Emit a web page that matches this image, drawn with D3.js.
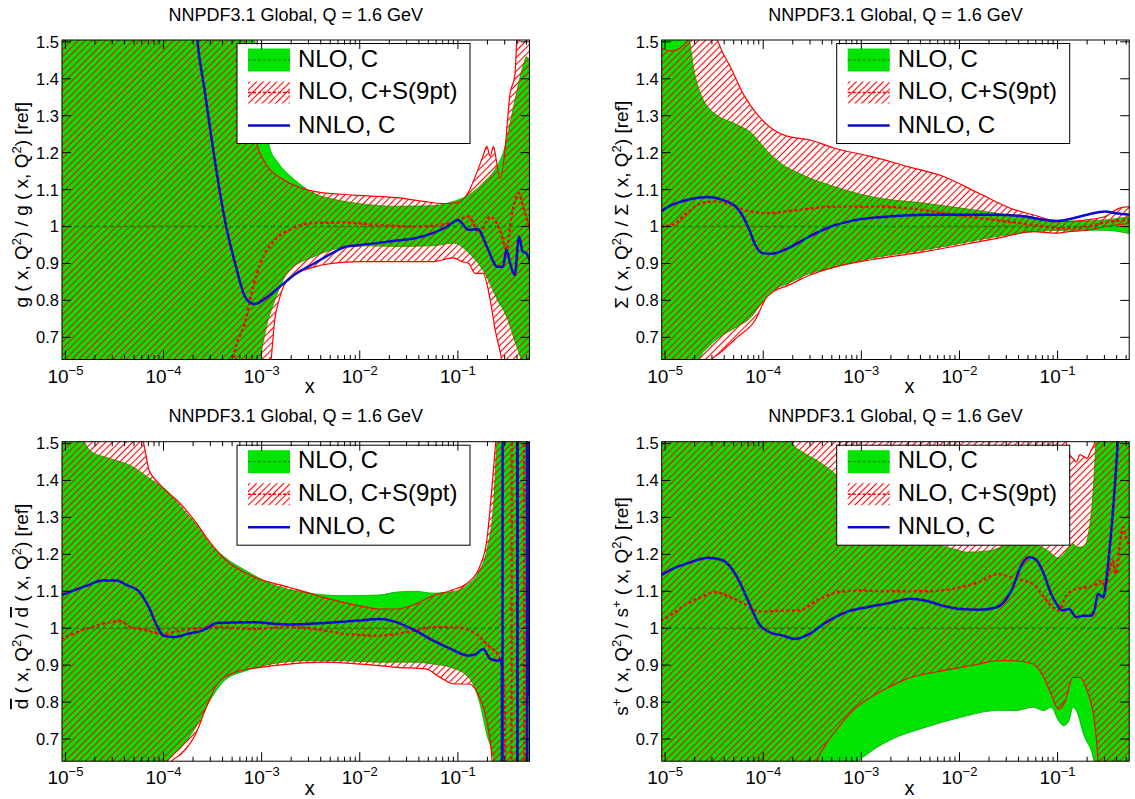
<!DOCTYPE html>
<html><head><meta charset="utf-8">
<script src="https://cdn.jsdelivr.net/npm/d3@7"></script>
<style>
body{margin:0;background:#fff}
svg{display:block}
text{font-family:"Liberation Sans",Arial,Helvetica,sans-serif;fill:#000}
</style>
</head><body><script>
// ---------------- data ----------------
const titleText = "NNPDF3.1 Global, Q = 1.6 GeV";
const legendLabels = ["NLO, C", "NLO, C+S(9pt)", "NNLO, C"];
const xMajorTicks = [1e-5, 1e-4, 1e-3, 1e-2, 1e-1];
const xMajorExp = ["\u22125", "\u22124", "\u22123", "\u22122", "\u22121"];
const yTicks = [0.7, 0.8, 0.9, 1.0, 1.1, 1.2, 1.3, 1.4, 1.5];
const yTickLabels = ["0.7", "0.8", "0.9", "1", "1.1", "1.2", "1.3", "1.4", "1.5"];
const refLine = [[9e-6, 1], [0.6, 1]];

// gluon
const glGreenUp = [[9e-6,1.6],[7.5e-4,1.6],[9e-4,1.45],[1.05e-3,1.3],[1.2e-3,1.217],[1.48e-3,1.172],[1.9e-3,1.14],[2.45e-3,1.115],[3.4e-3,1.09],[5.2e-3,1.075],[1.0e-2,1.062],[2.4e-2,1.055],[5.5e-2,1.056],[8.5e-2,1.066],[0.13,1.086],[0.18,1.118],[0.25,1.163],[0.29,1.2],[0.37,1.325],[0.46,1.434],[0.5,1.46],[0.55,1.43]];
const glGreenLo = [[9e-6,0.5],[8.5e-4,0.5],[9.7e-4,0.64],[1.1e-3,0.72],[1.36e-3,0.8],[1.9e-3,0.88],[3.4e-3,0.918],[5.2e-3,0.937],[1.0e-2,0.948],[2.4e-2,0.946],[5.6e-2,0.948],[9e-2,0.955],[0.13,0.928],[0.197,0.864],[0.254,0.80],[0.31,0.76],[0.38,0.69],[0.44,0.64],[0.55,0.5]];
const glRedUp = [[9e-6,1.7],[6e-4,1.6],[7.6e-4,1.35],[8.5e-4,1.25],[1.1e-3,1.17],[1.6e-3,1.13],[2.5e-3,1.105],[3.4e-3,1.095],[6e-3,1.088],[1.2e-2,1.083],[2.4e-2,1.078],[4.5e-2,1.068],[7e-2,1.062],[0.1,1.065],[0.129,1.095],[0.16,1.154],[0.18,1.19],[0.197,1.217],[0.214,1.19],[0.23,1.217],[0.25,1.17],[0.27,1.13],[0.3,1.2],[0.34,1.36],[0.38,1.407],[0.41,1.55],[0.55,1.6]];
const glRedLo = [[9e-6,0.5],[1.0e-3,0.5],[1.25e-3,0.64],[1.36e-3,0.747],[1.5e-3,0.8],[1.9e-3,0.86],[3.4e-3,0.89],[5.2e-3,0.9],[1.0e-2,0.905],[2.4e-2,0.905],[5.6e-2,0.905],[9e-2,0.915],[0.11,0.905],[0.129,0.9],[0.15,0.873],[0.18,0.873],[0.214,0.80],[0.24,0.72],[0.27,0.66],[0.3,0.6],[0.55,0.5]];
const glRedMid = [[5.0e-4,0.6],[5.14e-4,0.64],[6.9e-4,0.747],[8.18e-4,0.837],[9.7e-4,0.9],[1.36e-3,0.964],[1.9e-3,0.99],[3.16e-3,1.009],[6.75e-3,1.011],[1.57e-2,1.004],[3.65e-2,1.0],[8.5e-2,1.009],[0.129,1.027],[0.166,0.982],[0.214,1.027],[0.276,0.982],[0.313,0.937],[0.356,1.036],[0.42,1.09],[0.466,1.05],[0.55,0.99]];
const glBlue = [[2.1e-4,1.58],[2.21e-4,1.507],[2.62e-4,1.37],[3.24e-4,1.2],[4.35e-4,1.0],[5.37e-4,0.9],[6.9e-4,0.806],[8.5e-4,0.79],[1.15e-3,0.81],[1.61e-3,0.842],[2.25e-3,0.873],[3.43e-3,0.9],[5.24e-3,0.928],[7.34e-3,0.946],[1.03e-2,0.95],[2.39e-2,0.962],[3.65e-2,0.968],[5.56e-2,0.982],[7.8e-2,1.0],[0.1,1.018],[0.129,0.991],[0.16,0.993],[0.197,0.946],[0.254,0.891],[0.288,0.891],[0.313,0.937],[0.341,0.9],[0.38,0.869],[0.42,0.973],[0.458,0.932],[0.498,0.928],[0.55,0.9]];

// singlet
const sigGreenUp = [[9e-6,1.6],[1.6e-5,1.6],[1.75e-5,1.52],[1.95e-5,1.43],[2.3e-5,1.36],[2.8e-5,1.32],[3.3e-5,1.303],[5.4e-5,1.276],[7.6e-5,1.253],[1.07e-4,1.208],[1.5e-4,1.172],[2.5e-4,1.14],[5.35e-4,1.108],[1.25e-3,1.081],[4.44e-3,1.063],[1.04e-2,1.05],[2.41e-2,1.036],[5.62e-2,1.02],[0.131,1.014],[0.305,1.018],[0.55,1.027]];
const sigGreenLo = [[9e-6,0.5],[2.0e-5,0.55],[2.23e-5,0.64],[2.76e-5,0.674],[3.56e-5,0.70],[5.43e-5,0.729],[7.6e-5,0.756],[9.04e-5,0.783],[1.07e-4,0.81],[1.27e-4,0.828],[1.78e-4,0.846],[2.96e-4,0.873],[5.35e-4,0.89],[1.25e-3,0.914],[4.44e-3,0.937],[1.04e-2,0.955],[2.41e-2,0.973],[5.62e-2,0.986],[0.131,0.99],[0.305,0.99],[0.55,0.98]];
const sigRedUp = [[9e-6,1.484],[1.19e-5,1.475],[1.53e-5,1.49],[1.73e-5,1.505],[2.33e-5,1.52],[3.27e-5,1.51],[3.87e-5,1.47],[4.59e-5,1.434],[6.44e-5,1.353],[9.04e-5,1.298],[1.27e-4,1.262],[1.78e-4,1.244],[2.96e-4,1.235],[5.35e-4,1.212],[1.25e-3,1.19],[2.9e-3,1.163],[6.78e-3,1.136],[1.58e-2,1.09],[3.68e-2,1.045],[5.62e-2,1.032],[8.59e-2,1.018],[0.131,1.014],[0.2,1.018],[0.305,1.027],[0.428,1.05],[0.55,1.054]];
const sigRedLo = [[9e-6,0.5],[2.7e-5,0.58],[3.0e-5,0.64],[3.56e-5,0.656],[5.43e-5,0.70],[8.3e-5,0.747],[1.07e-4,0.806],[1.27e-4,0.824],[1.78e-4,0.84],[2.96e-4,0.868],[5.35e-4,0.89],[1.25e-3,0.91],[4.44e-3,0.932],[1.04e-2,0.95],[2.41e-2,0.968],[5.62e-2,0.986],[9.35e-2,0.982],[0.131,0.986],[0.2,0.99],[0.305,1.0],[0.55,1.009]];
const sigRedMid = [[9e-6,1.0],[1.19e-5,1.005],[1.66e-5,1.036],[2.33e-5,1.063],[3.27e-5,1.068],[4.59e-5,1.059],[6.44e-5,1.045],[1.07e-4,1.036],[2.29e-4,1.045],[5.35e-4,1.054],[1.25e-3,1.054],[2.9e-3,1.05],[6.78e-3,1.036],[1.58e-2,1.023],[3.68e-2,1.011],[6.67e-2,1.002],[0.111,0.995],[0.2,1.0],[0.305,1.011],[0.55,1.018]];
const sigBlue = [[9e-6,1.041],[1.19e-5,1.059],[1.66e-5,1.072],[2.76e-5,1.08],[3.87e-5,1.072],[5.43e-5,1.05],[7.0e-5,1.0],[8.3e-5,0.95],[9.84e-5,0.928],[1.22e-4,0.926],[1.78e-4,0.941],[2.96e-4,0.973],[4.91e-4,1.0],[8.16e-4,1.016],[1.9e-3,1.027],[4.44e-3,1.032],[1.04e-2,1.032],[2.41e-2,1.032],[4.74e-2,1.027],[6.67e-2,1.02],[9.35e-2,1.015],[0.131,1.02],[0.2,1.032],[0.305,1.041],[0.394,1.036],[0.55,1.032]];

// dbar
const dbGreenUp = [[9e-6,1.56],[1.5e-5,1.51],[1.8e-5,1.48],[2.8e-5,1.46],[4.65e-5,1.44],[7.7e-5,1.40],[1.08e-4,1.373],[1.51e-4,1.328],[2.12e-4,1.283],[2.97e-4,1.229],[4.17e-4,1.193],[6.92e-4,1.156],[1.25e-3,1.12],[2.9e-3,1.096],[4.42e-3,1.09],[6.75e-3,1.088],[1.57e-2,1.09],[2.39e-2,1.098],[3.65e-2,1.1],[5.56e-2,1.095],[8.47e-2,1.098],[0.129,1.12],[0.166,1.156],[0.197,1.211],[0.233,1.346],[0.254,1.52],[0.55,1.6]];
const dbGreenLo = [[9e-6,0.5],[1.0e-4,0.56],[1.08e-4,0.636],[1.51e-4,0.677],[2.12e-4,0.731],[2.97e-4,0.804],[4.17e-4,0.858],[6.92e-4,0.885],[1.25e-3,0.903],[2.9e-3,0.912],[6.75e-3,0.912],[1.57e-2,0.908],[3.65e-2,0.908],[5.56e-2,0.903],[8.47e-2,0.894],[0.129,0.867],[0.166,0.80],[0.197,0.713],[0.233,0.636],[0.25,0.5],[0.55,0.4]];
const dbRedUp = [[9e-6,1.6],[1.76e-5,1.53],[5.98e-5,1.52],[6.5e-5,1.48],[7.08e-5,1.43],[9.12e-5,1.39],[1.51e-4,1.335],[2.12e-4,1.288],[2.97e-4,1.233],[4.17e-4,1.188],[8.18e-4,1.14],[1.9e-3,1.111],[2.9e-3,1.097],[4.42e-3,1.082],[6.75e-3,1.07],[1.03e-2,1.06],[1.57e-2,1.052],[2.39e-2,1.052],[3.65e-2,1.065],[5.56e-2,1.088],[8.47e-2,1.102],[0.129,1.125],[0.166,1.165],[0.197,1.238],[0.224,1.39],[0.243,1.505],[0.26,1.6],[0.55,1.6]];
const dbRedLo = [[9e-6,0.5],[1.12e-4,0.56],[1.17e-4,0.636],[1.51e-4,0.659],[2.12e-4,0.713],[2.73e-4,0.786],[3.52e-4,0.849],[5.37e-4,0.881],[9.68e-4,0.894],[1.9e-3,0.903],[4.42e-3,0.908],[1.03e-2,0.903],[2.39e-2,0.894],[4.7e-2,0.89],[6.58e-2,0.867],[9.22e-2,0.849],[0.129,0.849],[0.166,0.813],[0.197,0.75],[0.224,0.636],[0.24,0.5],[0.55,0.4]];
const dbRedMid = [[9e-6,0.971],[1.2e-5,0.985],[1.84e-5,1.003],[2.8e-5,1.016],[3.6e-5,1.019],[4.65e-5,1.003],[6.5e-5,0.995],[9.93e-5,0.985],[1.51e-4,0.994],[3.52e-4,1.003],[8.18e-4,0.998],[1.9e-3,1.003],[4.42e-3,0.994],[6.75e-3,0.985],[1.57e-2,0.98],[2.39e-2,0.985],[3.65e-2,0.994],[5.56e-2,1.003],[9.22e-2,1.003],[0.153,0.985],[0.181,0.967],[0.214,0.948],[0.254,0.93],[0.288,0.894]];
const dbRedMidTail = [[0.288,0.894],[0.3,0.8],[0.31,0.3],[0.35,0.3],[0.356,1.8],[0.47,1.8],[0.477,0.3],[0.6,0.3]];
const dbBlue = [[9e-6,1.089],[1.2e-5,1.102],[1.69e-5,1.116],[2.37e-5,1.129],[3.31e-5,1.129],[4.27e-5,1.116],[5.5e-5,1.102],[7.08e-5,1.057],[8.38e-5,1.012],[9.93e-5,0.98],[1.28e-4,0.976],[1.79e-4,0.985],[2.51e-4,0.994],[3.52e-4,1.014],[8.18e-4,1.016],[1.9e-3,1.01],[4.42e-3,1.014],[1.03e-2,1.021],[1.57e-2,1.025],[2.39e-2,1.016],[3.65e-2,0.994],[5.56e-2,0.967],[8.47e-2,0.944],[0.129,0.926],[0.153,0.93],[0.181,0.944],[0.214,0.917],[0.254,0.912]];
const dbBlueTail = [[0.254,0.912],[0.275,0.915],[0.281,0.9],[0.283,0.3],[0.2845,0.3],[0.286,1.8],[0.402,1.8],[0.404,0.3],[0.406,0.3],[0.408,1.8],[0.505,1.8],[0.507,0.3],[0.509,0.3],[0.511,1.8],[0.528,1.8],[0.53,0.82],[0.533,1.06],[0.536,0.82],[0.55,0.82]];

// s+
const spGreenUp = [[9e-6,1.6],[1.0e-4,1.6],[1.5e-4,1.58],[1.94e-4,1.505],[2.6e-4,1.475],[3.5e-4,1.455],[5.82e-4,1.41],[1.0e-3,1.33],[3e-3,1.25],[8.7e-3,1.215],[1.2e-2,1.206],[2.04e-2,1.21],[3.1e-2,1.226],[5e-2,1.23],[8e-2,1.21],[0.102,1.19],[0.115,1.2],[0.131,1.22],[0.143,1.23],[0.155,1.22],[0.184,1.22],[0.218,1.30],[0.24,1.45],[0.25,1.55],[0.55,1.6]];
const spGreenLo = [[9e-6,0.4],[8.5e-4,0.55],[9.27e-4,0.636],[1.15e-3,0.659],[1.9e-3,0.695],[4.44e-3,0.731],[1.04e-2,0.759],[2.41e-2,0.777],[3.68e-2,0.777],[5.62e-2,0.786],[7.24e-2,0.777],[8.59e-2,0.786],[0.102,0.75],[0.115,0.736],[0.131,0.75],[0.143,0.786],[0.155,0.777],[0.184,0.713],[0.237,0.636],[0.26,0.5],[0.55,0.4]];
const spRedUp = [[9e-6,1.7],[0.09,1.6],[0.115,1.55],[0.125,1.49],[0.131,1.473],[0.143,1.46],[0.155,1.45],[0.169,1.47],[0.184,1.465],[0.2,1.46],[0.218,1.48],[0.24,1.505],[0.26,1.6],[0.55,1.7]];
const spRedLo = [[9e-6,0.4],[3.3e-4,0.58],[3.5e-4,0.636],[4.15e-4,0.677],[5.82e-4,0.731],[8.16e-4,0.777],[1.25e-3,0.813],[1.9e-3,0.84],[2.9e-3,0.863],[4.44e-3,0.876],[6.78e-3,0.885],[1.04e-2,0.894],[1.58e-2,0.903],[2.41e-2,0.912],[3.68e-2,0.912],[5.62e-2,0.903],[7.24e-2,0.867],[8.59e-2,0.822],[0.102,0.781],[0.12,0.804],[0.143,0.867],[0.169,0.867],[0.2,0.831],[0.237,0.75],[0.258,0.636],[0.27,0.5],[0.55,0.4]];
const spRedMid = [[9e-6,1.021],[1.19e-5,1.039],[1.66e-5,1.066],[2.33e-5,1.084],[3.27e-5,1.098],[4.59e-5,1.084],[6.44e-5,1.066],[8.3e-5,1.048],[1.07e-4,1.045],[1.5e-4,1.048],[2.29e-4,1.048],[3.5e-4,1.075],[5.82e-4,1.098],[9.66e-4,1.102],[1.9e-3,1.1],[4.44e-3,1.1],[1.04e-2,1.111],[1.58e-2,1.125],[2.41e-2,1.147],[3.68e-2,1.134],[5.62e-2,1.12],[7.24e-2,1.084],[8.59e-2,1.061],[0.102,1.048],[0.12,1.084],[0.155,1.107],[0.2,1.111],[0.237,1.116],[0.281,1.129],[0.305,1.111],[0.333,1.147],[0.362,1.184],[0.394,1.147],[0.428,1.22],[0.467,1.274],[0.508,1.238],[0.55,1.22]];
const spBlue = [[9e-6,1.143],[1.19e-5,1.161],[1.66e-5,1.175],[2.76e-5,1.191],[3.87e-5,1.184],[5.43e-5,1.138],[7.0e-5,1.075],[9.04e-5,1.012],[1.27e-4,0.985],[1.5e-4,0.982],[2.11e-4,0.971],[2.96e-4,0.985],[4.15e-4,1.012],[6.88e-4,1.043],[1.15e-3,1.057],[1.9e-3,1.068],[3.16e-3,1.08],[4.44e-3,1.075],[6.78e-3,1.061],[1.04e-2,1.052],[1.58e-2,1.05],[2.41e-2,1.057],[3.38e-2,1.102],[4.37e-2,1.175],[5.17e-2,1.193],[6.11e-2,1.184],[7.24e-2,1.147],[8.59e-2,1.093],[9.75e-2,1.066],[0.111,1.048],[0.131,1.052],[0.155,1.03],[0.184,1.034],[0.218,1.034],[0.237,1.048],[0.258,1.093],[0.293,1.084],[0.319,1.147],[0.362,1.301],[0.411,1.505],[0.43,1.6]];

// y-axis labels: [text, kind] kind: n normal, s superscript, b overline
const glYLabel = [["g ( x, Q","n"],["2","s"],[") / g ( x, Q","n"],["2","s"],[") [ref]","n"]];
const sigYLabel = [["\u03A3 ( x, Q","n"],["2","s"],[") / \u03A3 ( x, Q","n"],["2","s"],[") [ref]","n"]];
const dbYLabel = [["d","b"],[" ( x, Q","n"],["2","s"],[") / ","n"],["d","b"],[" ( x, Q","n"],["2","s"],[") [ref]","n"]];
const spYLabel = [["s","n"],["+","s"],[" ( x, Q","n"],["2","s"],[") / s","n"],["+","s"],[" ( x, Q","n"],["2","s"],[") [ref]","n"]];

// ---------------- layout / style ----------------
const W = 1135, H = 799;
const PW = 467.5, PH = 319.5;
const xDomain = [9.23e-6, 0.537];
const yDomain = [0.64, 1.505];
const GREEN = "#00e400", RED = "#ff0000", BLUE = "#0b0bd0", DGREEN = "#1d7a1d";

const panels = [
  {key:"gl", left:62, top:40, gU:glGreenUp, gL:glGreenLo, rU:glRedUp, rL:glRedLo, rM:glRedMid, b:glBlue, ylab:glYLabel},
  {key:"sig", left:661.7, top:40, gU:sigGreenUp, gL:sigGreenLo, rU:sigRedUp, rL:sigRedLo, rM:sigRedMid, b:sigBlue, ylab:sigYLabel},
  {key:"db", left:62, top:441.7, gU:dbGreenUp, gL:dbGreenLo, rU:dbRedUp, rL:dbRedLo, rM:dbRedMid, rMT:dbRedMidTail, b:dbBlue, bT:dbBlueTail, ylab:dbYLabel},
  {key:"sp", left:661.7, top:441.7, gU:spGreenUp, gL:spGreenLo, rU:spRedUp, rL:spRedLo, rM:spRedMid, b:spBlue, ylab:spYLabel}
];

const svg = d3.select("body").append("svg").attr("width", W).attr("height", H);
svg.append("rect").attr("width", W).attr("height", H).attr("fill", "#fff");
const defs = svg.append("defs");
const pat = defs.append("pattern").attr("id", "hatch").attr("patternUnits", "userSpaceOnUse")
  .attr("width", 4.8).attr("height", 4.8).attr("patternTransform", "rotate(45)");
pat.append("line").attr("x1", 2.4).attr("y1", -1).attr("x2", 2.4).attr("y2", 6)
  .attr("stroke", RED).attr("stroke-width", 1.1);

function richText(sel, segs, base, sup, shift) {
  let raised = false;
  segs.forEach(([t, k]) => {
    const ts = sel.append("tspan").text(t);
    if (k === "s") {
      ts.attr("font-size", sup);
      if (!raised) { ts.attr("dy", -shift); raised = true; }
    } else {
      ts.attr("font-size", base);
      if (raised) { ts.attr("dy", shift); raised = false; }
      if (k === "b") ts.style("text-decoration", "overline");
    }
  });
}

panels.forEach(p => {
  const g = svg.append("g").attr("transform", `translate(${p.left},${p.top})`);
  const x = d3.scaleLog().domain(xDomain).range([0, PW]);
  const y = d3.scaleLinear().domain(yDomain).range([PH, 0]);
  const smooth = d3.line().x(d => x(d[0])).y(d => y(d[1])).curve(d3.curveMonotoneX);
  const straight = d3.line().x(d => x(d[0])).y(d => y(d[1]));
  const band = (up, lo) => smooth(up) + "L" + smooth(lo.slice().reverse()).slice(1) + "Z";

  defs.append("clipPath").attr("id", "clip-" + p.key).append("rect").attr("width", PW).attr("height", PH);
  const c = g.append("g").attr("clip-path", `url(#clip-${p.key})`);

  c.append("path").attr("d", band(p.gU, p.gL)).attr("fill", GREEN).attr("stroke", "#00a800").attr("stroke-width", 0.8);
  c.append("path").attr("d", band(p.rU, p.rL)).attr("fill", "url(#hatch)");
  c.append("path").attr("d", smooth(p.rU)).attr("fill", "none").attr("stroke", RED).attr("stroke-width", 1.2);
  c.append("path").attr("d", smooth(p.rL)).attr("fill", "none").attr("stroke", RED).attr("stroke-width", 1.2);
  c.append("path").attr("d", straight(refLine)).attr("fill", "none").attr("stroke", DGREEN)
    .attr("stroke-width", 1.4).attr("stroke-dasharray", "4,3");
  c.append("path").attr("d", smooth(p.rM)).attr("fill", "none").attr("stroke", RED)
    .attr("stroke-width", 2.4).attr("stroke-dasharray", "3,2.5");
  if (p.rMT) c.append("path").attr("d", straight(p.rMT)).attr("fill", "none").attr("stroke", RED)
    .attr("stroke-width", 2.4).attr("stroke-dasharray", "3,2.5");
  c.append("path").attr("d", smooth(p.b)).attr("fill", "none").attr("stroke", BLUE).attr("stroke-width", 2.5)
    .attr("stroke-linejoin", "round");
  if (p.bT) c.append("path").attr("d", straight(p.bT)).attr("fill", "none").attr("stroke", BLUE).attr("stroke-width", 2.5);

  // legend
  const lg = g.append("g").attr("transform", "translate(175,3.5)");
  lg.append("rect").attr("width", 233).attr("height", 100).attr("fill", "#fff").attr("stroke", "#000").attr("stroke-width", 1);
  lg.append("rect").attr("x", 11).attr("y", 5).attr("width", 42).attr("height", 23).attr("fill", GREEN);
  lg.append("line").attr("x1", 11).attr("x2", 53).attr("y1", 16.5).attr("y2", 16.5).attr("stroke", DGREEN).attr("stroke-width", 1).attr("stroke-dasharray", "3,2");
  lg.append("rect").attr("x", 11).attr("y", 38).attr("width", 42).attr("height", 22).attr("fill", "url(#hatch)");
  lg.append("line").attr("x1", 11).attr("x2", 53).attr("y1", 49).attr("y2", 49).attr("stroke", RED).attr("stroke-width", 1.5).attr("stroke-dasharray", "3,2");
  lg.append("line").attr("x1", 11).attr("x2", 53).attr("y1", 82).attr("y2", 82).attr("stroke", BLUE).attr("stroke-width", 2.5);
  lg.selectAll("text.lab").data(legendLabels).join("text").attr("class", "lab")
    .attr("x", 61).attr("y", (d, i) => [23.2, 55.8, 89.2][i]).attr("font-size", 24).text(d => d);

  // frame
  g.append("rect").attr("width", PW).attr("height", PH).attr("fill", "none").attr("stroke", "#000").attr("stroke-width", 1);
  // x ticks
  const allX = x.ticks().filter(v => v >= xDomain[0] && v <= xDomain[1]);
  const isMajor = v => xMajorTicks.some(m => Math.abs(m - v) / m < 1e-6);
  allX.forEach(v => {
    const len = isMajor(v) ? 9 : 4.5;
    const xx = x(v);
    g.append("line").attr("x1", xx).attr("x2", xx).attr("y1", PH).attr("y2", PH - len).attr("stroke", "#000");
    g.append("line").attr("x1", xx).attr("x2", xx).attr("y1", 0).attr("y2", len).attr("stroke", "#000");
  });
  xMajorTicks.forEach((v, i) => {
    const t = g.append("text").attr("x", x(v)).attr("y", PH + 23).attr("text-anchor", "middle");
    t.append("tspan").attr("font-size", 19).text("10");
    t.append("tspan").attr("font-size", 13).attr("dy", -8).text(xMajorExp[i]);
  });
  // y ticks
  yTicks.forEach((v, i) => {
    const yy = y(v);
    g.append("line").attr("x1", 0).attr("x2", 9).attr("y1", yy).attr("y2", yy).attr("stroke", "#000");
    g.append("line").attr("x1", PW).attr("x2", PW - 9).attr("y1", yy).attr("y2", yy).attr("stroke", "#000");
    g.append("text").attr("x", -3).attr("y", yy).attr("dy", "0.36em").attr("text-anchor", "end")
      .attr("font-size", 16.5).text(yTickLabels[i]);
  });
  // labels
  g.append("text").attr("x", PW / 2 + 14).attr("y", PH + 33.5).attr("text-anchor", "middle").attr("font-size", 20).text("x");
  g.append("text").attr("x", PW / 2).attr("y", -19.5).attr("text-anchor", "middle").attr("font-size", 18).text(titleText);
  const yl = g.append("text").attr("transform", `translate(-34,${PH / 2 + 5}) rotate(-90)`).attr("text-anchor", "middle");
  richText(yl, p.ylab, 19, 13, 7);
});
</script></body></html>
